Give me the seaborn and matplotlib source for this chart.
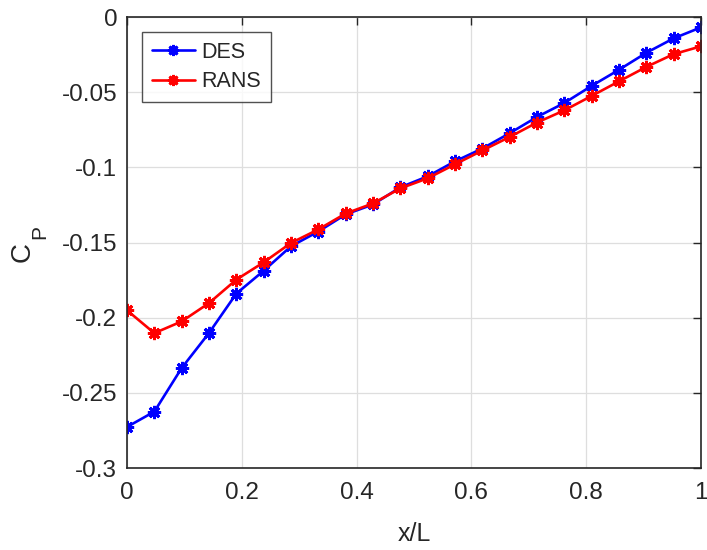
import numpy as np
import pandas as pd
import matplotlib
matplotlib.use("Agg")
import matplotlib.pyplot as plt
import seaborn as sns

# Pressure coefficient along the body, 22 stations from x/L = 0 to 1
x_over_L = [i / 21 for i in range(22)]
cp_des = [-0.2727, -0.2625, -0.2335, -0.2102, -0.1840, -0.1688, -0.1525, -0.1427,
          -0.1313, -0.1247, -0.1133, -0.1060, -0.0960, -0.0875, -0.0773, -0.0665,
          -0.0572, -0.0458, -0.0351, -0.0238, -0.0142, -0.0069]
cp_rans = [-0.1951, -0.2103, -0.2025, -0.1903, -0.1747, -0.1632, -0.1503, -0.1413,
           -0.1307, -0.1240, -0.1140, -0.1073, -0.0980, -0.0888, -0.0798, -0.0702,
           -0.0621, -0.0525, -0.0428, -0.0332, -0.0247, -0.0195]
series_names = ["DES", "RANS"]
series_colors = ["#0000ff", "#ff0000"]

df = pd.DataFrame({
    "x/L": x_over_L * 2,
    "Cp": cp_des + cp_rans,
    "case": [series_names[0]] * len(x_over_L) + [series_names[1]] * len(x_over_L),
})

sns.set_style("white")
plt.rcParams["font.family"] = ["Liberation Sans", "DejaVu Sans"]

fig = plt.figure(figsize=(7.07, 5.5), dpi=100)
ax = fig.add_axes([127 / 707, 1 - 468 / 550, (701 - 127) / 707, (468 - 17) / 550])

asterisk = (8, 2, 0)
sns.lineplot(data=df, x="x/L", y="Cp", hue="case", style="case",
             hue_order=series_names, style_order=series_names,
             palette=series_colors, markers=[asterisk, asterisk], dashes=False,
             markersize=9.5, markeredgewidth=2.0, linewidth=1.9, ax=ax)

# asterisk markers take the colour of their own line
for line in ax.get_lines():
    line.set_markeredgecolor(line.get_color())
    line.set_markerfacecolor(line.get_color())

ax.set_xlim(0, 1)
ax.set_ylim(-0.3, 0)
ax.set_xticks(np.arange(0, 1.01, 0.2))
ax.set_xticklabels(["0", "0.2", "0.4", "0.6", "0.8", "1"])
ax.set_yticks(np.arange(-0.3, 0.001, 0.05))
ax.set_yticklabels(["-0.3", "-0.25", "-0.2", "-0.15", "-0.1", "-0.05", "0"])

ax.grid(True, color="#dedede", linewidth=0.9)
ax.set_axisbelow(True)
for side in ["left", "right", "top", "bottom"]:
    ax.spines[side].set_visible(True)
    ax.spines[side].set_color("#262626")
    ax.spines[side].set_linewidth(1.2)
ax.tick_params(direction="in", length=6, width=1.0, colors="#262626",
               labelsize=17.5, top=True, right=True)
ax.tick_params(axis="y", pad=7)
ax.tick_params(axis="x", pad=10)

ax.set_xlabel("x/L", fontsize=18, color="#262626", labelpad=13)
ax.set_ylabel("")
# y-axis label: C with a lowered subscript P
fig.text(23 / 707, 1 - 252 / 550, "C", rotation=90, fontsize=20,
         color="#262626", ha="center", va="center")
fig.text(40 / 707, 1 - 232 / 550, "P", rotation=90, fontsize=15,
         color="#262626", ha="center", va="center")

leg = ax.legend(loc="upper left", bbox_to_anchor=(15 / 574, 1 - 15 / 451),
                fontsize=15.5, frameon=True, fancybox=False, edgecolor="#262626",
                handlelength=2.0, handletextpad=0.3, borderpad=0.45,
                labelspacing=0.4, borderaxespad=0)
leg.get_frame().set_linewidth(1.0)
for handle in leg.legend_handles:
    handle.set_markeredgecolor(handle.get_color())
    handle.set_markerfacecolor(handle.get_color())
    handle.set_markersize(8)

fig.savefig("out.png", dpi=100)
